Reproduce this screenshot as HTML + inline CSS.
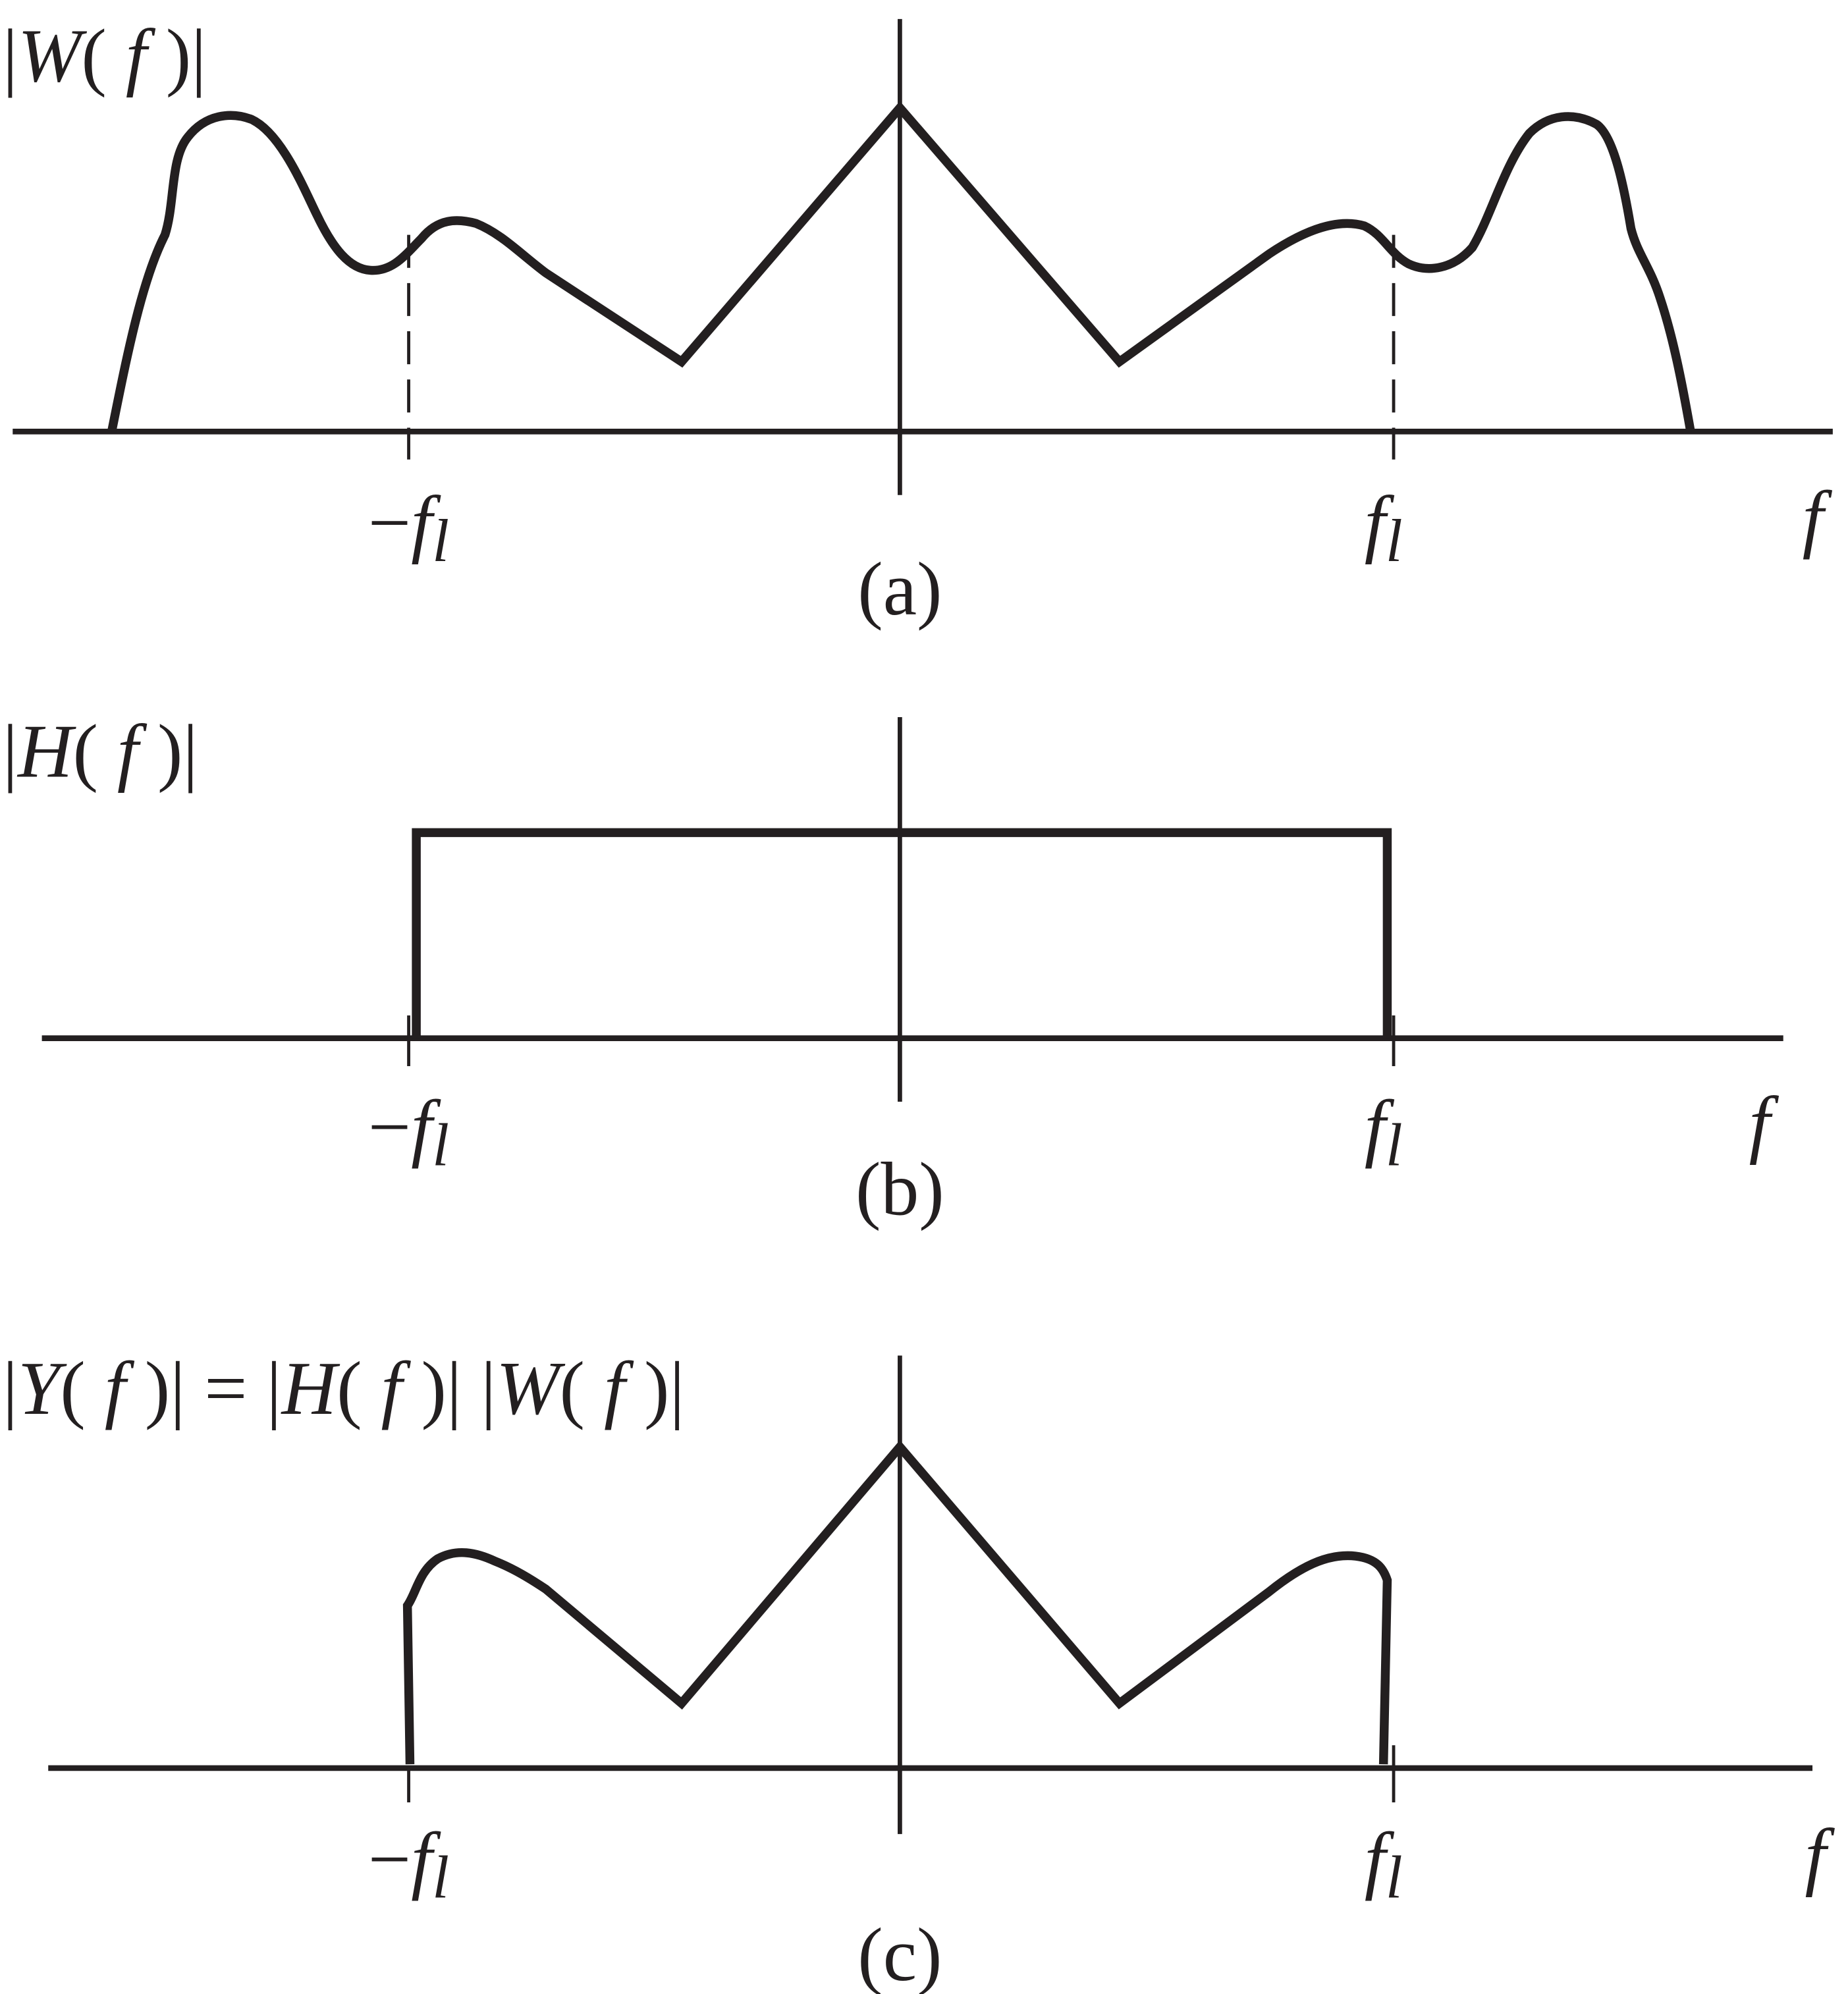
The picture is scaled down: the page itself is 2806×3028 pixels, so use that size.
<!DOCTYPE html>
<html><head><meta charset="utf-8"><style>html,body{margin:0;padding:0;background:#fff}svg{display:block}text{font-family:"Liberation Serif","Times New Roman",serif}</style></head>
<body>
<svg width="2806" height="3028" viewBox="0 0 1456 1571" preserveAspectRatio="none" xmlns="http://www.w3.org/2000/svg">
<g fill="none" stroke="#231f20" stroke-linejoin="miter">
<!-- Panel a -->
<line x1="10" y1="340" x2="1444" y2="340" stroke-width="4.5"/>
<line x1="709" y1="15" x2="709" y2="390" stroke-width="3.5"/>
<line x1="322" y1="185" x2="322" y2="362" stroke-width="2.5" stroke-dasharray="26,12"/>
<line x1="1098" y1="185" x2="1098" y2="362" stroke-width="2.5" stroke-dasharray="26,12"/>
<path d="M88,340 C100,280 112,220 130,185 C138,160 134,125 148,108 C162,90 182,88 198,94 C222,105 240,150 250,170 C262,195 275,212 292,213 C310,214 320,200 332,188 C345,172 360,172 375,176 C395,184 410,200 430,215 L537,285 L709,85 L882,285 L1000,200 C1030,180 1055,172 1075,178 C1090,185 1095,200 1110,208 C1125,215 1145,212 1160,195 C1175,170 1185,130 1205,105 C1220,90 1240,88 1258,98 C1272,108 1280,150 1285,180 C1290,200 1300,210 1308,235 C1318,265 1325,300 1332,340" stroke-width="7"/>
<!-- Panel b -->
<line x1="33" y1="818" x2="1405" y2="818" stroke-width="4.5"/>
<line x1="709" y1="565" x2="709" y2="868" stroke-width="3.5"/>
<line x1="322" y1="800" x2="322" y2="840" stroke-width="2.5"/>
<line x1="1098" y1="800" x2="1098" y2="840" stroke-width="2.5"/>
<path d="M328,818 L328,656 L1093,656 L1093,818" stroke-width="7"/>
<!-- Panel c -->
<line x1="38" y1="1393" x2="1428" y2="1393" stroke-width="4.5"/>
<line x1="709" y1="1068" x2="709" y2="1445" stroke-width="3.5"/>
<line x1="322" y1="1393" x2="322" y2="1420" stroke-width="2.5"/>
<line x1="1098" y1="1375" x2="1098" y2="1420" stroke-width="2.5"/>
<path d="M323,1390 L321,1265 C328,1255 330,1238 345,1228 C360,1220 375,1223 390,1230 C405,1236 418,1244 430,1252 L537,1342 L709,1140 L882,1342 L1000,1254 C1030,1230 1050,1224 1068,1226 C1085,1228 1090,1236 1093,1245 L1090,1390" stroke-width="7"/>
</g>
<g fill="#231f20" font-size="60">
<text x="2" y="64">|<tspan font-style="italic">W</tspan>( <tspan font-style="italic">f</tspan> )|</text>
<text x="290" y="432">−<tspan font-style="italic">f</tspan><tspan font-style="italic" font-size="48" dy="10">l</tspan></text>
<text x="1075" y="432"><tspan font-style="italic">f</tspan><tspan font-style="italic" font-size="48" dy="10">l</tspan></text>
<text x="1420" y="428" font-style="italic">f</text>
<text x="709" y="484" text-anchor="middle">(a)</text>

<text x="2" y="612">|<tspan font-style="italic">H</tspan>( <tspan font-style="italic">f</tspan> )|</text>
<text x="290" y="908">−<tspan font-style="italic">f</tspan><tspan font-style="italic" font-size="48" dy="10">l</tspan></text>
<text x="1075" y="908"><tspan font-style="italic">f</tspan><tspan font-style="italic" font-size="48" dy="10">l</tspan></text>
<text x="1378" y="905" font-style="italic">f</text>
<text x="709" y="957" text-anchor="middle">(b)</text>

<text x="2" y="1114">|<tspan font-style="italic">Y</tspan>( <tspan font-style="italic">f</tspan> )| = |<tspan font-style="italic">H</tspan>( <tspan font-style="italic">f</tspan> )| |<tspan font-style="italic">W</tspan>( <tspan font-style="italic">f</tspan> )|</text>
<text x="290" y="1485">−<tspan font-style="italic">f</tspan><tspan font-style="italic" font-size="48" dy="10">l</tspan></text>
<text x="1075" y="1485"><tspan font-style="italic">f</tspan><tspan font-style="italic" font-size="48" dy="10">l</tspan></text>
<text x="1422" y="1482" font-style="italic">f</text>
<text x="709" y="1560" text-anchor="middle">(c)</text>
</g>
</svg>
</body></html>
